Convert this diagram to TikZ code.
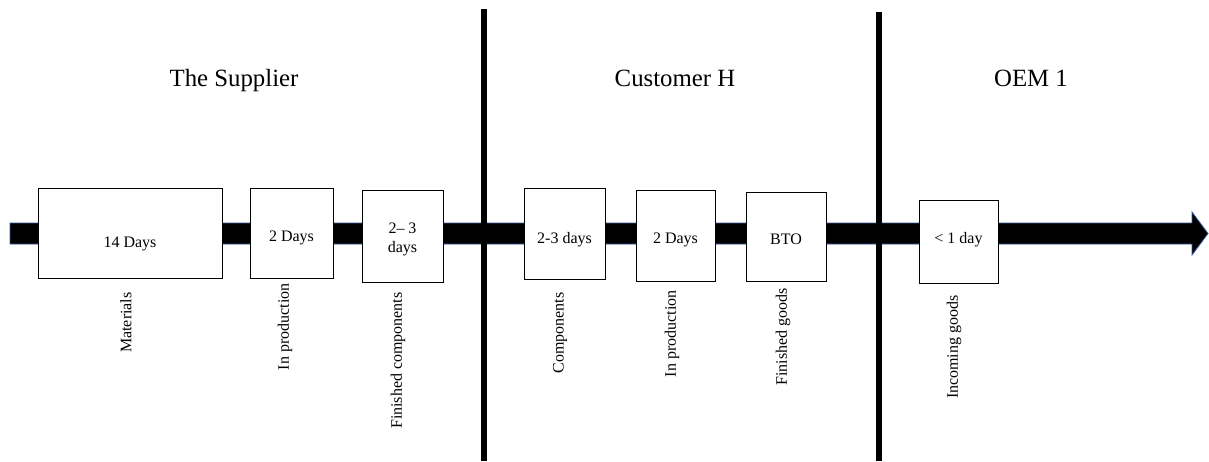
\documentclass[tikz,border=0pt]{standalone}
\usepackage{fontspec}
\setmainfont{Liberation Serif}
\usepackage{tikz}
\definecolor{bandedge}{HTML}{3A5A9C}
\usetikzlibrary{positioning}

\begin{document}
\begin{tikzpicture}[x=0.5pt, y=-0.5pt]
    \tikzset{bx/.style={
      draw,
      fill=white,
      line width=0.5pt,
      inner sep=0pt,
      font=\fontsize{8}{9.5}\selectfont,
      align=center}}
    \tikzset{lbl/.style={
      rotate=90,
      anchor=east,
      inner sep=0pt,
      font=\fontsize{8}{9.5}\selectfont}}
    \tikzset{ttl/.style={
      anchor=base,
      inner sep=0pt,
      font=\fontsize{12.4}{14}\selectfont}}
    \useasboundingbox (0,0) rectangle (1209,461);
    % flow band with its head
    \draw[fill=black, draw=bandedge, line width=0.4pt]
      (10,223) -- (1192,223) -- (1192,212) -- (1208,233.5) -- (1192,255)
      -- (1192,244) -- (10,244) -- cycle;
    % dividers
    \draw[line width=3pt] (484,9) -- (484,461);
    \draw[line width=3pt] (879,12) -- (879,461);
    % headings
    \node[ttl] at (234,86) (sup) {The Supplier};
    \node[ttl] at (675,86) (cust) {Customer H};
    \node[ttl] at (1031,86) (oem) {OEM 1};
    % stock boxes
    \node[bx, minimum width=92pt, minimum height=45pt, text height=16.4pt] at (130,233) (0) {14 Days};
    \node[bx, minimum width=41.5pt, minimum height=45pt, text height=10.4pt] at (291.5,233) (1) {2 Days};
    \node[bx, minimum width=40.5pt, minimum height=46pt, text height=18pt] at (402.5,236) (2) {2-- 3\\days};
    \node[bx, minimum width=40.5pt, minimum height=45.5pt, text height=11.4pt] at (564.5,233.5) (3) {2-3 days};
    \node[bx, minimum width=39.5pt, minimum height=45.5pt, text height=9.4pt] at (675.5,235.5) (4) {2 Days};
    \node[bx, minimum width=40pt, minimum height=44.5pt, text height=8.4pt] at (786,236.5) (5) {BTO};
    \node[bx, minimum width=39.5pt, minimum height=41.5pt, text depth=3.2pt] at (958.5,241.5) (6) {< 1 day};
    % stage names
    \node[lbl] at (126,292) (l0) {Materials};
    \node[lbl] at (285,283) (l1) {In production};
    \node[lbl] at (398,292) (l2) {Finished components};
    \node[lbl] at (560,292) (l3) {Components};
    \node[lbl] at (672,290) (l4) {In production};
    \node[lbl] at (783,288) (l5) {Finished goods};
    \node[lbl] at (954,295) (l6) {Incoming goods};
\end{tikzpicture}
\end{document}
